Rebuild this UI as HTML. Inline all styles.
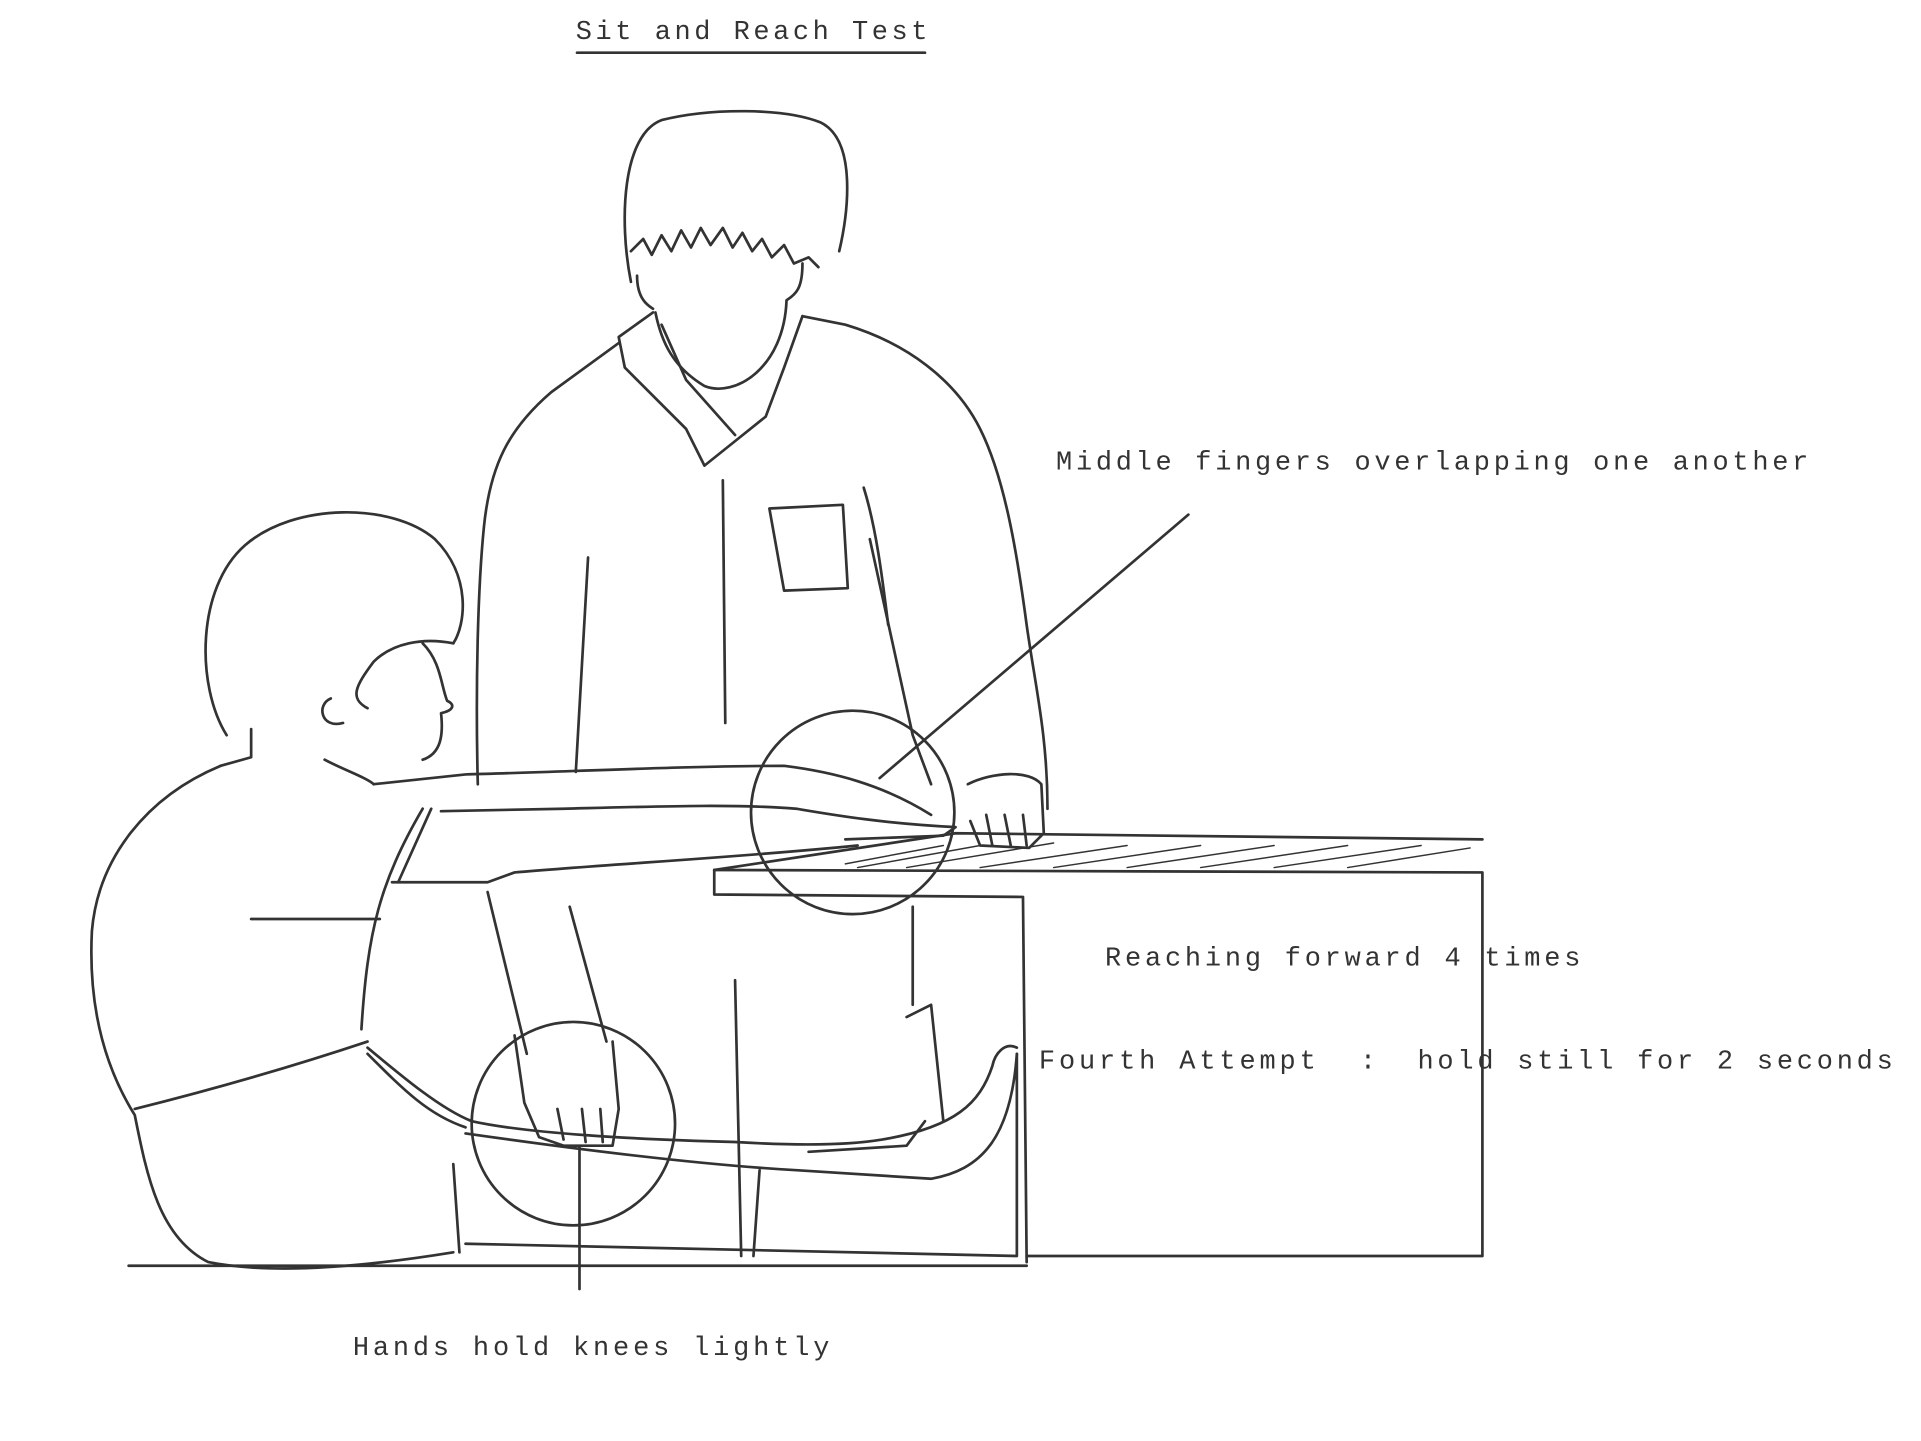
<!DOCTYPE html>
<html><head><meta charset="utf-8"><style>
html,body{margin:0;padding:0;background:#fff;}
svg{display:block;}
text{font-family:"Liberation Mono",monospace;font-size:22px;fill:#333;}
</style></head><body>
<svg width="1921" height="1441" viewBox="0 0 1568 1176" preserveAspectRatio="none" xmlns="http://www.w3.org/2000/svg">
<g fill="none" stroke="#333" stroke-width="2.2" stroke-linecap="round" stroke-linejoin="round">
<line x1="471" y1="43" x2="755" y2="43"/>
<path d="M515 230 C505 180 508 110 540 98 C580 88 640 88 670 100 C700 115 692 175 685 205"/>
<path d="M515 205 L525 195 L532 208 L540 192 L548 205 L556 188 L564 202 L572 186 L580 200 L590 186 L598 202 L606 190 L614 205 L622 195 L630 210 L640 200 L648 215 L660 210 L668 218"/>
<path d="M520 225 C520 245 530 250 533 252"/>
<path d="M655 215 C655 235 650 240 642 245 C640 300 600 325 575 315 C550 300 540 280 535 255"/>
<path d="M533 255 L505 275 L510 300 L560 350 L575 380 L600 360 L625 340 L640 300 L655 258"/>
<path d="M540 265 L560 310 L600 355"/>
<path d="M655 258 L690 265 C740 280 780 310 800 350 C820 390 830 450 838 510 C845 560 855 600 855 660"/>
<path d="M505 280 L450 320 C415 350 400 380 395 430 C390 480 388 560 390 640"/>
<path d="M590 392 L592 590"/>
<path d="M628 415 L688 412 L692 480 L640 482 Z"/>
<path d="M705 398 C715 430 720 470 725 510"/>
<path d="M480 455 L470 630"/>
<path d="M710 440 L745 600 L760 640"/>
<path d="M583 710 L1210 712 L1210 1025 L838 1025"/>
<path d="M583 710 L583 730 L835 732 L838 1030"/>
<path d="M583 710 L780 680 L1210 685"/>
<g stroke-width="1.2"><path d="M690 705 L770 690 M700 708 L800 690 M740 708 L860 688 M800 708 L920 690 M860 708 L980 690 M920 708 L1040 690 M980 708 L1100 690 M1040 708 L1160 690 M1100 708 L1200 692"/></g>
<path d="M790 640 C810 630 840 628 850 640 L852 680 L840 692 L800 690 L792 670"/>
<path d="M805 665 L810 690 M820 665 L825 690 M835 665 L838 690"/>
<path d="M185 600 C160 560 160 480 200 445 C240 410 320 410 355 440 C385 470 380 510 370 525"/>
<path d="M370 525 C345 520 320 525 305 540 C290 560 285 570 300 578"/>
<path d="M345 525 C360 540 360 560 365 572 C372 575 370 580 360 582 C362 600 360 615 345 620"/>
<path d="M270 570 C258 575 262 595 280 590"/>
<path d="M205 595 L205 618 L180 625"/>
<path d="M265 620 C280 628 300 635 305 640"/>
<path d="M180 625 C120 650 80 700 75 760 C72 820 85 870 110 910 C120 960 130 1010 170 1030 C220 1040 290 1035 370 1022"/>
<path d="M110 905 C170 890 240 870 300 850"/>
<path d="M205 750 L310 750"/>
<path d="M295 840 C300 760 310 720 345 660"/>
<path d="M305 640 L380 632 C460 630 560 625 640 625 C680 630 720 640 760 665"/>
<path d="M360 662 L460 660 C540 658 600 656 650 660 C680 665 720 672 780 675 L770 682 L690 685"/>
<path d="M320 720 L398 720 L420 712 C500 705 600 700 700 690"/>
<path d="M352 660 L325 720"/>
<path d="M300 855 C330 880 360 905 385 915 C430 925 520 930 600 932 C650 935 690 935 720 930 C780 920 800 900 810 870 C812 860 820 850 830 855"/>
<path d="M300 860 C330 890 350 910 380 920"/>
<path d="M380 925 C450 935 560 950 650 955 L760 962 C800 955 825 930 830 860"/>
<path d="M660 940 L740 935 L755 915"/>
<path d="M740 830 L760 820 L770 915"/>
<path d="M375 1022 L370 950"/>
<path d="M380 1015 L830 1025 L830 860"/>
<path d="M600 800 L605 1025"/>
<path d="M620 955 L615 1025"/>
<path d="M398 728 L430 860 M465 740 L495 850"/>
<path d="M745 740 L745 820"/>
<path d="M420 845 L428 900 L440 928 L460 935 L500 935 L505 905 L500 850"/>
<path d="M455 905 L460 930 M475 905 L478 932 M490 905 L492 932"/>
<line x1="105" y1="1033" x2="838" y2="1033"/>
<circle cx="696" cy="663" r="83"/>
<circle cx="468" cy="917" r="83"/>
<line x1="970" y1="420" x2="718" y2="635"/>
<line x1="473" y1="935" x2="473" y2="1052"/>
</g>
<text x="470" y="32" textLength="287" lengthAdjust="spacing">Sit and Reach Test</text>
<text x="862" y="383" textLength="614" lengthAdjust="spacing">Middle fingers overlapping one another</text>
<text x="902" y="788" textLength="388" lengthAdjust="spacing">Reaching forward 4 times</text>
<text x="848" y="872" textLength="226" lengthAdjust="spacing">Fourth Attempt</text>
<text x="1110" y="872">:</text>
<text x="1157" y="872" textLength="388" lengthAdjust="spacing">hold still for 2 seconds</text>
<text x="288" y="1106" textLength="389" lengthAdjust="spacing">Hands hold knees lightly</text>
</svg>
</body></html>
